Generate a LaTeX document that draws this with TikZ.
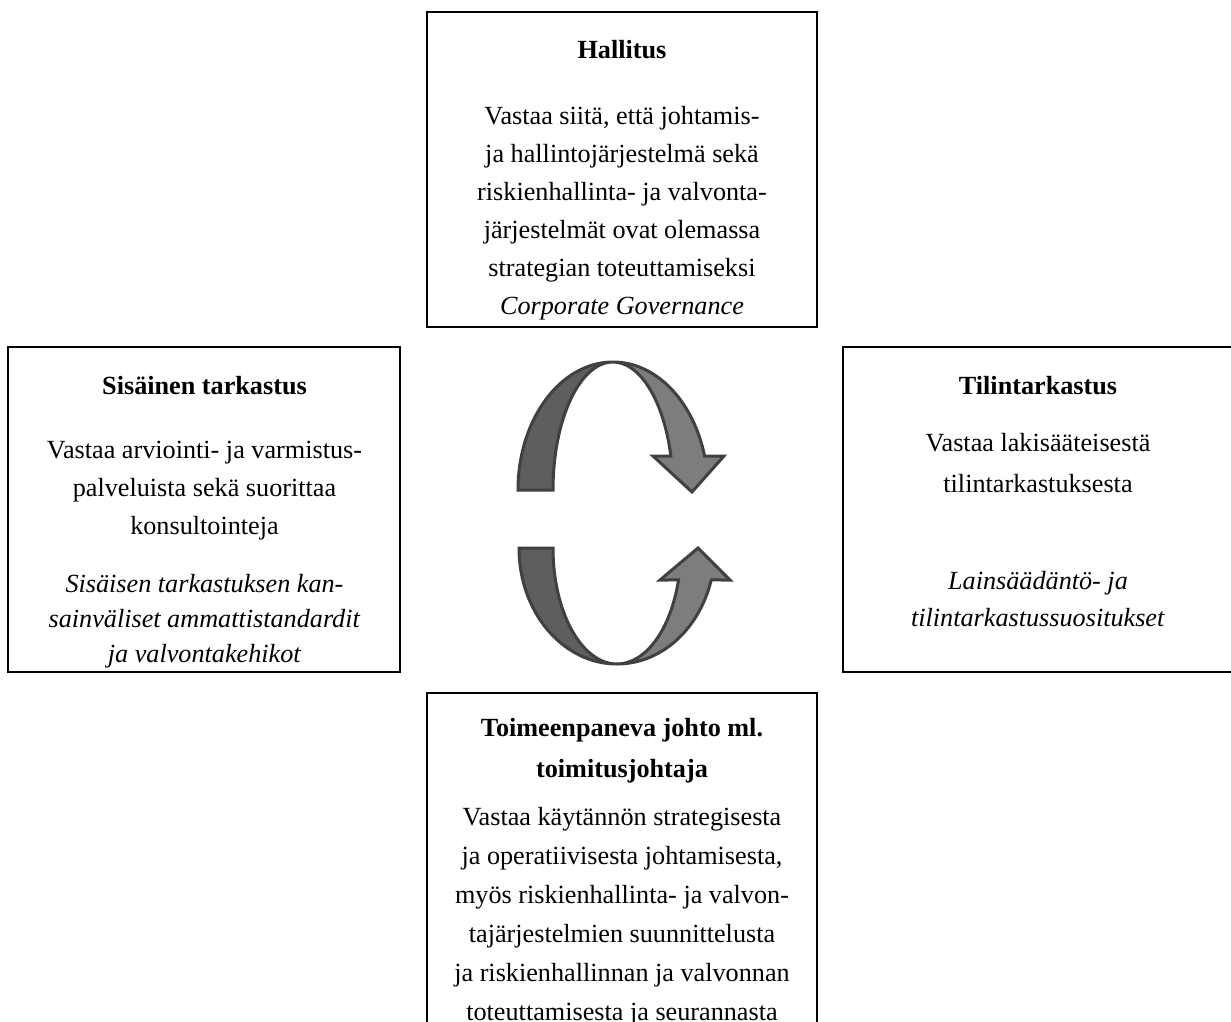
\documentclass[tikz,border=0pt]{standalone}
\usepackage{fontspec}
\setmainfont{Liberation Serif}
\usetikzlibrary{calc}
\begin{document}
\begin{tikzpicture}[x=1pt,y=1pt,
  box/.style={draw=black, line width=2.2pt, rectangle, inner sep=0pt},
  txt/.style={align=center, inner sep=0pt, anchor=base, font=\fontsize{26.2}{#1}\selectfont},
  txt/.default=38.5,
  darkhalf/.style={fill=black!63, draw=black!75, line width=3pt, line join=miter},
  lighthalf/.style={fill=black!51, draw=black!75, line width=3pt, line join=miter}]
\useasboundingbox (0,0) rectangle (1231,-1021);
\clip (0,0) rectangle (1231,-1021);

% boxes
\node[box, minimum width=390pt, minimum height=315pt] (top) at (622,-169.5) {};
\node[box, minimum width=392pt, minimum height=325pt] (left) at (204,-509.5) {};
\node[box, minimum width=390pt, minimum height=325pt] (right) at (1038,-509.5) {};
\node[box, minimum width=390pt, minimum height=347pt] (bottom) at (622,-866.5) {};

% top box text (anchor base = baseline of last line)
\node[txt] (toph) at (622,-58) {\textbf{Hallitus}};
\node[txt=38] (topb) at (622,-314.5) {Vastaa siitä, että johtamis-\\ja hallintojärjestelmä sekä\\riskienhallinta- ja valvonta-\\järjestelmät ovat olemassa\\strategian toteuttamiseksi\\\textit{Corporate Governance}};

% left box text
\node[txt] (lefth) at (204.5,-394) {\textbf{Sisäinen tarkastus}};
\node[txt=38] (leftb) at (204.5,-534) {Vastaa arviointi- ja varmistus-\\palveluista sekä suorittaa\\konsultointeja};
\node[txt=35] (lefti) at (204.5,-662) {\textit{Sisäisen tarkastuksen kan-}\\\textit{sainväliset ammattistandardit}\\\textit{ja valvontakehikot}};

% right box text
\node[txt] (righth) at (1038,-394) {\textbf{Tilintarkastus}};
\node[txt=41] (rightb) at (1038,-492) {Vastaa lakisääteisestä\\tilintarkastuksesta};
\node[txt=37] (righti) at (1038,-626) {\textit{Lainsäädäntö- ja}\\\textit{tilintarkastussuositukset}};

% bottom box text
\node[txt=41] (both) at (622,-777) {\textbf{Toimeenpaneva johto ml.}\\\textbf{toimitusjohtaja}};
\node[txt=39] (botb) at (622,-1020) {Vastaa käytännön strategisesta\\ja operatiivisesta johtamisesta,\\myös riskienhallinta- ja valvon-\\tajärjestelmien suunnittelusta\\ja riskienhallinnan ja valvonnan\\toteuttamisesta ja seurannasta};

% upper circular arrow
\coordinate (c1) at (613,-490);
\draw[darkhalf] ($(c1)+(180:95 and 128)$) arc[start angle=180, end angle=90, x radius=95, y radius=128]
  arc[start angle=90, end angle=180, x radius=60, y radius=128] -- cycle;
\draw[lighthalf] ($(c1)+(90:95 and 128)$) arc[start angle=90, end angle=15.4, x radius=95, y radius=128]
  -- (724,-456) -- (692,-492) -- (653,-456) -- ($(c1)+(15.4:60 and 128)$)
  arc[start angle=15.4, end angle=90, x radius=60, y radius=128] -- cycle;

% lower circular arrow
\coordinate (c2) at (617,-548);
\draw[darkhalf] ($(c2)+(180:98 and 116)$) arc[start angle=180, end angle=270, x radius=98, y radius=116]
  arc[start angle=270, end angle=180, x radius=64, y radius=116] -- cycle;
\draw[lighthalf] ($(c2)+(270:98 and 116)$) arc[start angle=270, end angle=344, x radius=98, y radius=116]
  -- (730,-580) -- (698,-548) -- (660,-580) -- ($(c2)+(344:64 and 116)$)
  arc[start angle=344, end angle=270, x radius=64, y radius=116] -- cycle;
\end{tikzpicture}
\end{document}
